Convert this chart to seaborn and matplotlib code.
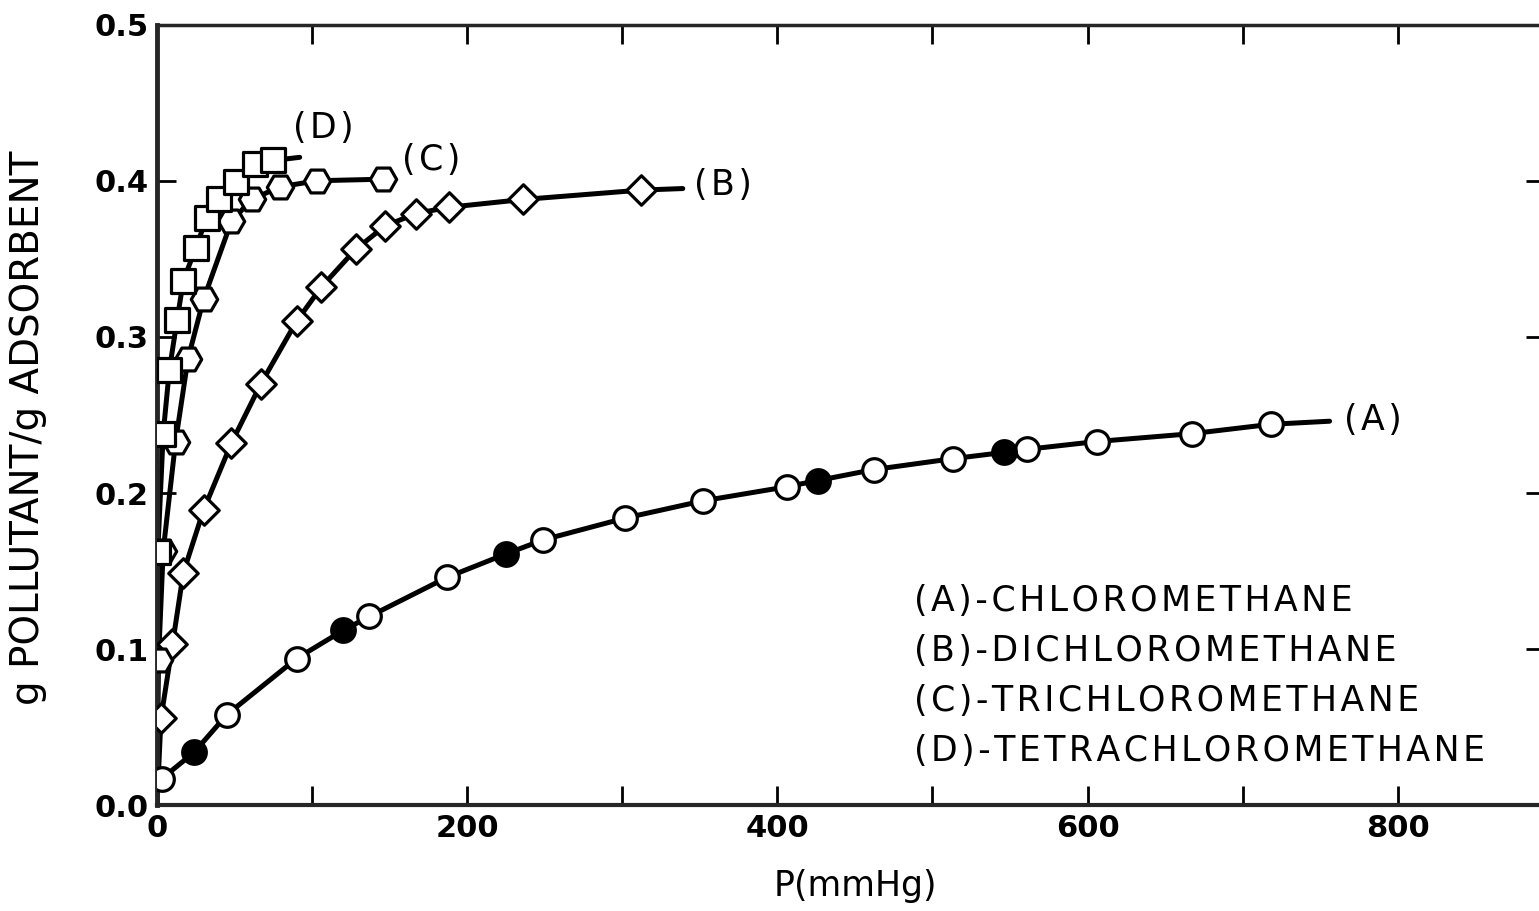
import numpy as np
import pandas as pd
import matplotlib
matplotlib.use("Agg")
import matplotlib.pyplot as plt
import seaborn as sns

# series A - chloromethane (open and filled circles)
a_open_p = [3, 45, 90, 137, 187, 249, 302, 352, 406, 462, 513, 561, 606, 667, 718]
a_open_q = [0.017, 0.058, 0.094, 0.121, 0.146, 0.170, 0.184, 0.195, 0.204, 0.215, 0.222, 0.228, 0.233, 0.238, 0.244]
a_fill_p = [24, 120, 225, 426, 546]
a_fill_q = [0.034, 0.112, 0.161, 0.208, 0.226]
a_end = (756, 0.246)

# series B - dichloromethane (diamonds)
b_p = [2.6, 10, 17, 30, 48, 67, 90, 106, 128, 147, 167, 188, 236, 312]
b_q = [0.056, 0.103, 0.149, 0.189, 0.232, 0.270, 0.310, 0.332, 0.356, 0.371, 0.379, 0.383, 0.388, 0.394]
b_end = (339, 0.395)

# series C - trichloromethane (hexagons)
c_p = [1, 4, 12, 20, 30, 48, 61, 79, 103, 146]
c_q = [0.093, 0.163, 0.233, 0.286, 0.324, 0.374, 0.388, 0.396, 0.400, 0.401]

# series D - tetrachloromethane (squares)
d_p = [0.5, 4, 8, 13, 17, 25, 32, 40, 51, 63, 75]
d_q = [0.162, 0.238, 0.279, 0.311, 0.336, 0.357, 0.376, 0.388, 0.399, 0.411, 0.413]
d_end = (92, 0.415)

curve_labels = ["(A)", "(B)", "(C)", "(D)"]
curve_label_pos = [(765, 0.247), (346, 0.397), (158, 0.413), (88, 0.434)]
legend_lines = ["(A)-CHLOROMETHANE", "(B)-DICHLOROMETHANE",
                "(C)-TRICHLOROMETHANE", "(D)-TETRACHLOROMETHANE"]

sns.set_style("ticks")
plt.rcParams["font.family"] = ["DejaVu Sans"]
plt.rcParams["text.color"] = "black"
plt.rcParams["axes.labelcolor"] = "black"

def spaced(s):
    # the original lettering is set a bit loose
    return "\u200a".join(s)

fig = plt.figure(figsize=(15.39, 9.11), dpi=100)
ax = fig.add_axes([0.102, 0.116, 0.902, 0.857])

lw = 3.6
mew = 2.3

def line(xs, ys):
    df = pd.DataFrame({"p": xs, "q": ys})
    sns.lineplot(data=df, x="p", y="q", ax=ax, color="black", lw=lw, sort=False,
                 estimator=None, zorder=2)

line(a_open_p[:1] + sorted(a_open_p[1:] + a_fill_p) + [a_end[0]],
     [a_open_q[0]] + sorted(a_open_q[1:] + a_fill_q) + [a_end[1]])
line([0] + b_p + [b_end[0]], [0] + b_q + [b_end[1]])
line([0] + c_p, [0] + c_q)
line([0] + d_p + [d_end[0]], [0] + d_q + [d_end[1]])

def pts(xs, ys, marker, size, face):
    sns.scatterplot(x=xs, y=ys, ax=ax, marker=marker, s=size ** 2, color=face,
                    edgecolor="black", linewidth=mew, zorder=3)

pts(a_open_p, a_open_q, "o", 17, "white")
pts(a_fill_p, a_fill_q, "o", 17, "black")
pts(b_p, b_q, "D", 15, "white")
pts(c_p, c_q, "H", 19, "white")
pts(d_p, d_q, "s", 17, "white")

for lab, (x, y) in zip(curve_labels, curve_label_pos):
    ax.text(x, y, spaced(lab), fontsize=25, ha="left", va="center")

for i, t in enumerate(legend_lines):
    ax.text(488, 0.131 - i * 0.032, spaced(t), fontsize=25, ha="left", va="center")

ax.set_xlim(0, 895)
ax.set_ylim(0, 0.5)
ax.set_xticks([0, 200, 400, 600, 800])
ax.set_xticks(np.arange(100, 900, 200), minor=True)
ax.set_yticks([0.0, 0.1, 0.2, 0.3, 0.4, 0.5])
ax.set_yticklabels(["0.0", "0.1", "0.2", "0.3", "0.4", "0.5"])
ax.tick_params(axis="both", which="both", direction="in", top=True, right=True,
               length=14, width=2, labelsize=22, colors="black")
ax.tick_params(axis="x", pad=6)
ax.tick_params(axis="y", pad=6)
for lab in ax.get_xticklabels() + ax.get_yticklabels():
    lab.set_fontweight("bold")

ax.set_xlabel("")
ax.set_ylabel("")
fig.text(855 / 1539, 1 - 886 / 911, "P(mmHg)", fontsize=25, ha="center", va="center")
fig.text(28 / 1539, 1 - 428 / 911, "g POLLUTANT/g ADSORBENT", fontsize=28,
         rotation=90, ha="center", va="center")

ax.spines["left"].set_linewidth(3.5)
ax.spines["bottom"].set_linewidth(3)
ax.spines["top"].set_linewidth(2.5)
ax.spines["right"].set_linewidth(2.5)
ax.spines["top"].set_visible(True)
ax.spines["right"].set_visible(True)

fig.savefig("out.png", dpi=100)
